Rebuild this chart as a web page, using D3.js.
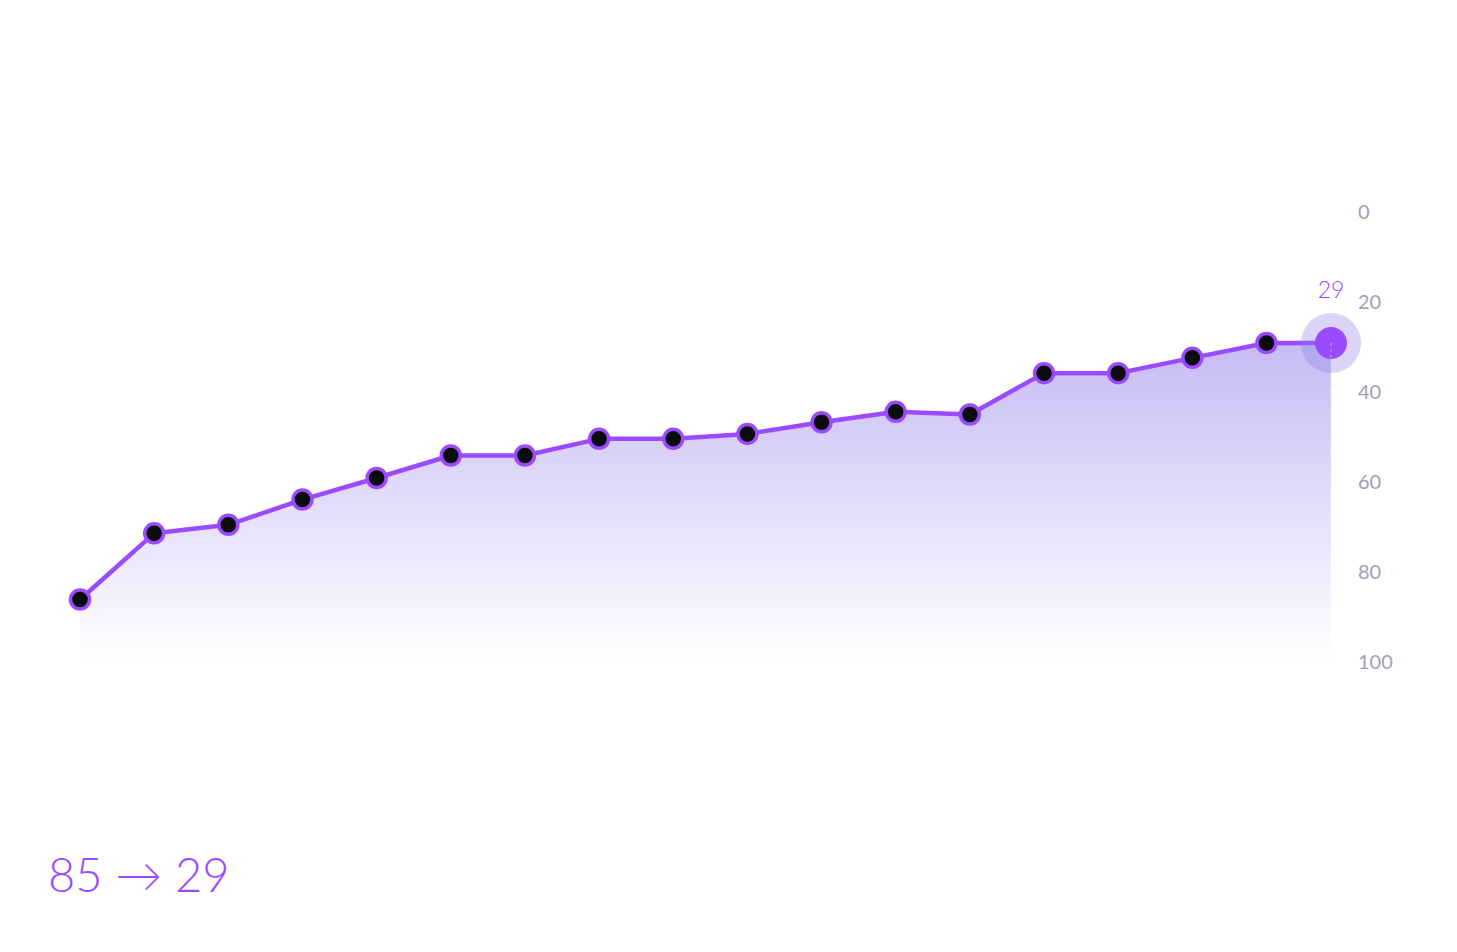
<!DOCTYPE html>
<html>
<head>
<meta charset="utf-8">
<script src="https://cdn.jsdelivr.net/npm/d3@7"></script>
<style>
  html, body { margin: 0; padding: 0; background: #ffffff; }
  svg { display: block; font-family: Lato, "Noto Sans", sans-serif; }
</style>
</head>
<body>
<svg id="chart" width="1457" height="952"></svg>
<script>
// ── data ──
const steps  = [0, 1, 2, 3, 4, 5, 6, 7, 8, 9, 10, 11, 12, 13, 14, 15, 16, 16.87];
const scores = [86, 71.3, 69.4, 63.8, 59, 54, 54, 50.3, 50.3, 49.2, 46.6, 44.3, 44.9, 35.7, 35.7, 32.3, 29, 29];
const yTicks = [0, 20, 40, 60, 80, 100];
const startLabel = 85, endLabel = 29;

const PURPLE = '#9b4bff';
const svg = d3.select('#chart');

// inverted axis: 0 sits at the top, 100 at the bottom
const x = d3.scaleLinear().domain([0, 16.87]).range([80, 1331]);
const y = d3.scaleLinear().domain([0, 100]).range([212.5, 662.5]);

const defs = svg.append('defs');
const grad = defs.append('linearGradient')
  .attr('id', 'areaFill')
  .attr('gradientUnits', 'userSpaceOnUse')
  .attr('x1', 0).attr('x2', 0)
  .attr('y1', y(29)).attr('y2', y(100));
grad.append('stop').attr('offset', 0).attr('stop-color', '#c6bbf4');
grad.append('stop').attr('offset', 1).attr('stop-color', '#ffffff');

const pts = steps.map((s, i) => ({ s, v: scores[i] }));

svg.append('path')
  .datum(pts)
  .attr('fill', 'url(#areaFill)')
  .attr('d', d3.area().x(d => x(d.s)).y0(y(100)).y1(d => y(d.v)));

// faint guides dropping from the two end points
const ends = [pts[0], pts[pts.length - 1]];
svg.selectAll('line.guide').data(ends).enter().append('line')
  .attr('class', 'guide')
  .attr('x1', d => x(d.s)).attr('x2', d => x(d.s))
  .attr('y1', d => y(d.v)).attr('y2', y(100))
  .attr('stroke', '#ffffff').attr('stroke-opacity', 0.55)
  .attr('stroke-width', 1).attr('stroke-dasharray', '5 4');

svg.append('path')
  .datum(pts)
  .attr('fill', 'none')
  .attr('stroke', PURPLE)
  .attr('stroke-width', 4.5)
  .attr('stroke-linejoin', 'round')
  .attr('d', d3.line().x(d => x(d.s)).y(d => y(d.v)));

const last = pts[pts.length - 1];
svg.selectAll('circle.dot').data(pts.slice(0, -1)).enter().append('circle')
  .attr('class', 'dot')
  .attr('cx', d => x(d.s)).attr('cy', d => y(d.v))
  .attr('r', 9.5)
  .attr('fill', '#0b0b0b')
  .attr('stroke', PURPLE).attr('stroke-width', 3.5);

// highlighted final point
svg.append('circle')
  .attr('cx', x(last.s)).attr('cy', y(last.v)).attr('r', 30)
  .attr('fill', '#8f7ee8').attr('fill-opacity', 0.33);
svg.append('circle')
  .attr('cx', x(last.s)).attr('cy', y(last.v)).attr('r', 16)
  .attr('fill', PURPLE);
svg.append('line')
  .attr('x1', x(last.s)).attr('x2', x(last.s))
  .attr('y1', y(last.v)).attr('y2', y(last.v) + 16)
  .attr('stroke', '#ffffff').attr('stroke-opacity', 0.5)
  .attr('stroke-dasharray', '3 3');

svg.append('text')
  .attr('x', x(last.s)).attr('y', y(last.v) - 45)
  .attr('text-anchor', 'middle')
  .attr('fill', PURPLE)
  .attr('font-size', 23)
  .attr('font-weight', 300)
  .text(endLabel);

// y axis labels on the right, no line
const axis = d3.axisRight(y).tickValues(yTicks).tickSize(0).tickPadding(0);
const ag = svg.append('g').attr('transform', 'translate(1358,0)').call(axis);
ag.select('.domain').remove();
ag.selectAll('text')
  .attr('fill', '#a29eb2')
  .attr('font-size', 20)
  .attr('font-weight', 400)
  .attr('font-family', 'Lato, "Noto Sans", sans-serif');

svg.append('text')
  .attr('x', 48).attr('y', 892)
  .attr('fill', PURPLE)
  .attr('font-size', 47)
  .attr('font-weight', 300)
  .text(`${startLabel} → ${endLabel}`);
</script>
</body>
</html>
